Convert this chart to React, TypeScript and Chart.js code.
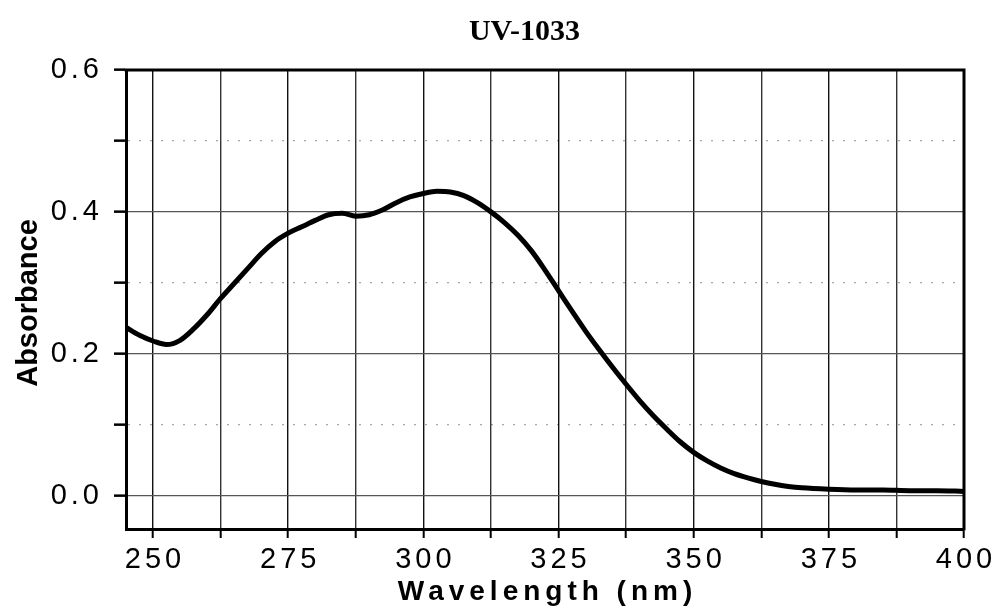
import React, { useEffect, useRef } from "react";
import { Chart, registerables } from "chart.js";

Chart.register(...registerables);

const TITLE = "UV-1033";
const X_TITLE = "Wavelength (nm)";
const Y_TITLE = "Absorbance";

const wavelength = [
  245, 247.5, 250, 252.5, 255, 257.5, 260, 262.5, 265, 267.5, 270, 272.5, 275,
  277.5, 280, 282.5, 285, 287.5, 290, 292.5, 295, 297.5, 300, 302.5, 305, 307.5,
  310, 312.5, 315, 317.5, 320, 322.5, 325, 327.5, 330, 332.5, 335, 337.5, 340,
  342.5, 345, 347.5, 350, 352.5, 355, 357.5, 360, 362.5, 365, 367.5, 370, 375,
  380, 385, 390, 395, 400,
];

const absorbance = [
  0.237, 0.226, 0.218, 0.213, 0.219, 0.235, 0.255, 0.278, 0.299, 0.32, 0.341,
  0.358, 0.37, 0.379, 0.388, 0.396, 0.398, 0.394, 0.396, 0.403, 0.413, 0.421,
  0.426, 0.429, 0.428, 0.423, 0.413, 0.4, 0.385, 0.367, 0.345, 0.318, 0.289,
  0.26, 0.232, 0.206, 0.181, 0.157, 0.134, 0.113, 0.094, 0.076, 0.061, 0.049,
  0.039, 0.031, 0.025, 0.02, 0.016, 0.013, 0.011, 0.009, 0.008, 0.008, 0.007,
  0.007, 0.006,
];

const xTickValues = [250, 262.5, 275, 287.5, 300, 312.5, 325, 337.5, 350, 362.5, 375, 387.5, 400];
const xTickLabels = ["250", "", "275", "", "300", "", "325", "", "350", "", "375", "", "400"];
const yTickValues = [0, 0.1, 0.2, 0.3, 0.4, 0.5, 0.6];
const yTickLabels = ["0.0", "", "0.2", "", "0.4", "", "0.6"];

const X_MIN = 245;
const X_MAX = 400;
const Y_MIN = -0.047;
const Y_MAX = 0.6;

const SANS = "'Liberation Sans', Arial, Helvetica, sans-serif";
const SERIF = "'Liberation Serif', 'Times New Roman', serif";

const decorPlugin = {
  id: "decor",
  beforeDraw(chart: any) {
    chart.ctx.letterSpacing = "4px";
  },
  afterDraw(chart: any) {
    const { ctx, chartArea: a } = chart;
    ctx.save();
    ctx.letterSpacing = "0px";
    // top and right frame
    ctx.strokeStyle = "#000";
    ctx.lineWidth = 3;
    ctx.beginPath();
    ctx.moveTo(a.left - 1.5, a.top);
    ctx.lineTo(a.right, a.top);
    ctx.lineTo(a.right, a.bottom + 1.5);
    ctx.stroke();

    ctx.fillStyle = "#000";
    // main title
    ctx.font = `bold 30px ${SERIF}`;
    ctx.textAlign = "center";
    ctx.textBaseline = "alphabetic";
    ctx.fillText(TITLE, 524.5, 40);

    // y title
    ctx.save();
    ctx.font = `bold 29px ${SANS}`;
    ctx.translate(37, 303);
    ctx.rotate(-Math.PI / 2);
    ctx.textAlign = "center";
    ctx.textBaseline = "alphabetic";
    ctx.fillText(Y_TITLE, 0, 0);
    ctx.restore();

    // x title
    ctx.letterSpacing = "5px";
    ctx.font = `bold 28px ${SANS}`;
    ctx.textAlign = "center";
    ctx.textBaseline = "alphabetic";
    ctx.fillText(X_TITLE, (a.left + a.right) / 2 + 2.5, 600);
    ctx.restore();
  },
};

export default function App() {
  const ref = useRef<HTMLCanvasElement | null>(null);

  useEffect(() => {
    document.body.style.margin = "0";
    const canvas = ref.current;
    if (!canvas) return;
    const points = wavelength.map((w, i) => ({ x: w, y: absorbance[i] }));
    const chart = new Chart(canvas, {
      type: "line",
      data: {
        datasets: [
          {
            label: Y_TITLE,
            data: points,
            borderColor: "#000",
            borderWidth: 5,
            pointRadius: 0,
            fill: false,
            cubicInterpolationMode: "monotone",
          },
        ],
      },
      options: {
        animation: false,
        responsive: false,
        devicePixelRatio: 1,
        layout: { padding: { left: 0, top: 70, right: 30, bottom: 0 } },
        plugins: {
          legend: { display: false },
          title: { display: false },
          tooltip: { enabled: false },
        },
        scales: {
          x: {
            type: "linear",
            min: X_MIN,
            max: X_MAX,
            afterBuildTicks: (scale: any) => {
              scale.ticks = xTickValues.map((v) => ({ value: v }));
            },
            afterFit: (scale: any) => {
              scale.height = 79;
            },
            ticks: {
              autoSkip: false,
              maxRotation: 0,
              padding: 5,
              labelOffset: 2,
              color: "#000",
              font: { family: SANS, size: 29 },
              callback: (_v: any, i: number) => xTickLabels[i],
            },
            grid: {
              drawOnChartArea: true,
              drawTicks: true,
              tickLength: 9,
              color: (ctx: any) => {
                const v = ctx.tick ? ctx.tick.value : 0;
                return v % 25 === 0 ? "#111" : "#333";
              },
              lineWidth: 1.4,
              tickColor: "#000",
              tickWidth: 2,
            },
            border: { display: true, color: "#000", width: 3 },
          },
          y: {
            type: "linear",
            min: Y_MIN,
            max: Y_MAX,
            afterBuildTicks: (scale: any) => {
              scale.ticks = yTickValues.map((v) => ({ value: v }));
            },
            afterFit: (scale: any) => {
              scale.width = 126;
            },
            ticks: {
              autoSkip: false,
              padding: 11,
              color: "#000",
              font: { family: SANS, size: 29 },
              callback: (_v: any, i: number) => yTickLabels[i],
            },
            grid: {
              drawOnChartArea: true,
              drawTicks: true,
              tickLength: 12,
              color: (ctx: any) => {
                const i = ctx.index ?? 0;
                return i % 2 === 0 ? "#555" : "rgba(0,0,0,0.35)";
              },
              lineWidth: 1.3,
              tickColor: "#000",
              tickWidth: 2.5,
            },
            border: {
              display: true,
              color: "#000",
              width: 3,
              dash: (ctx: any) => ((ctx.index ?? 0) % 2 === 0 ? [] : [2, 9]),
            },
          },
        },
      },
      plugins: [decorPlugin],
    });
    return () => chart.destroy();
  }, []);

  return (
    <div style={{ position: "fixed", left: 0, top: 0, width: 994, height: 608, background: "#fff" }}>
      <canvas ref={ref} width={994} height={608} style={{ width: 994, height: 608, display: "block" }} />
    </div>
  );
}
